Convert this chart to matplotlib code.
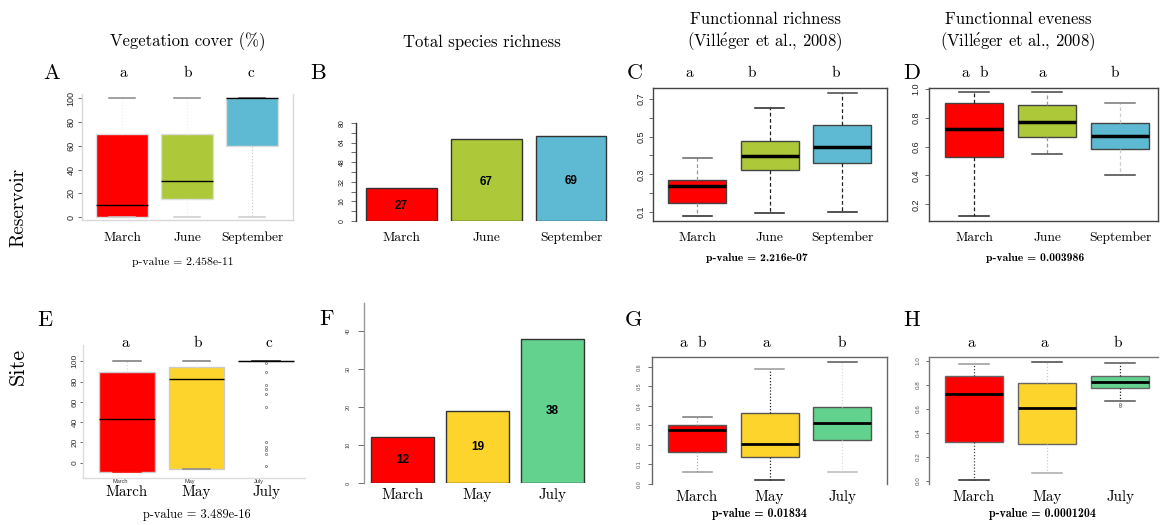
import matplotlib
matplotlib.use("Agg")
import matplotlib.pyplot as plt

plt.rcParams["mathtext.fontset"] = "cm"

W, H = 1160, 525
SER = ["cmr10", "DejaVu Serif"]
BSER = ["cmb10", "DejaVu Serif"]
SANS = ["Liberation Sans", "DejaVu Sans"]

months_res = ["March", "June", "September"]
months_site = ["March", "May", "July"]
col_res = ["#FF0000", "#ADC93A", "#5EBAD2"]
col_site = ["#FF0000", "#FDD42C", "#62D28E"]

# A  vegetation cover (%), reservoir
vegA_lo = [0, 0, 0]
vegA_q1 = [0, 15, 60]
vegA_med = [10, 30, 100]
vegA_q3 = [70, 70, 100]
vegA_hi = [100, 100, 100]
vegA_letters = ["a", "b", "c"]
ticksA = [0, 20, 40, 60, 80, 100]

# B  total species richness, reservoir
richB = [27, 67, 69]
ticksB = [0, 16, 32, 48, 64, 80]

# C  functional richness, reservoir
fricC_lo = [0.079, 0.093, 0.098]
fricC_q1 = [0.146, 0.321, 0.361]
fricC_med = [0.239, 0.396, 0.446]
fricC_q3 = [0.269, 0.479, 0.559]
fricC_hi = [0.388, 0.654, 0.734]
fricC_letters = ["a", "b", "b"]
ticksC = [0.1, 0.2, 0.3, 0.4, 0.5, 0.6, 0.7]
labelsC = ["0.1", "", "0.3", "", "0.5", "", "0.7"]

# D  functional evenness, reservoir
feveD_lo = [0.119, 0.545, 0.402]
feveD_q1 = [0.527, 0.668, 0.582]
feveD_med = [0.719, 0.772, 0.675]
feveD_q3 = [0.902, 0.888, 0.765]
feveD_hi = [0.976, 0.979, 0.900]
feveD_letters = ["a  b", "a", "b"]
ticksD = [0.2, 0.4, 0.6, 0.8, 1.0]
labelsD = ["0.2", "0.4", "0.6", "0.8", "1.0"]

# E  vegetation cover (%), site
vegE_lo = [-9, -6, 100]
vegE_q1 = [-9, -6, 100]
vegE_med = [43, 83, 100]
vegE_q3 = [89, 94, 100]
vegE_hi = [100, 100, 100]
vegE_fliers = [[], [], [98, 89, 77, 73, 68, 55, 20, 16, 13, 9, -3]]
vegE_letters = ["a", "b", "c"]
ticksE = [0, 20, 40, 60, 80, 100]

# F  total species richness, site
richF = [12, 19, 38]
ticksF = [0, 10, 20, 30, 40]

# G  functional richness, site
fricG_lo = [0.060, 0.019, 0.063]
fricG_q1 = [0.163, 0.139, 0.224]
fricG_med = [0.277, 0.206, 0.311]
fricG_q3 = [0.301, 0.364, 0.395]
fricG_hi = [0.345, 0.590, 0.626]
fricG_letters = ["a  b", "a", "b"]
ticksG = [0.0, 0.1, 0.2, 0.3, 0.4, 0.5, 0.6]
labelsG = ["0.0", "0.1", "0.2", "0.3", "0.4", "0.5", "0.6"]

# H  functional evenness, site
feveH_lo = [0.006, 0.064, 0.665]
feveH_q1 = [0.321, 0.310, 0.776]
feveH_med = [0.726, 0.607, 0.828]
feveH_q3 = [0.873, 0.814, 0.873]
feveH_hi = [0.978, 0.992, 0.983]
feveH_fliers = [[], [], [0.64, 0.62]]
feveH_letters = ["a", "a", "b"]
ticksH = [0.0, 0.2, 0.4, 0.6, 0.8, 1.0]
labelsH = ["0.0", "0.2", "0.4", "0.6", "0.8", "1.0"]

pvals = {"A": "p-value = 2.458e-11", "C": "p-value = 2.216e-07",
         "D": "p-value = 0.003986", "E": "p-value = 3.489e-16",
         "G": "p-value = 0.01834", "H": "p-value = 0.0001204"}

pos = [1, 2, 3]

fig = plt.figure(figsize=(W / 100, H / 100), dpi=100)


def rect(x0, y0, x1, y1):
    return [x0 / W, 1 - y1 / H, (x1 - x0) / W, (y1 - y0) / H]


def put(x, y, s, **kw):
    kw.setdefault("family", SER)
    fig.text(x / W, 1 - y / H, s, ha="center", va="center", **kw)


def spines(ax, show, color, lw=1.0):
    for k, sp in ax.spines.items():
        sp.set_visible(k in show)
        sp.set_color(color)
        sp.set_linewidth(lw)


def boxes(ax, lo, q1, med, q3, hi, cols, fliers=None, edge="#444", med_lw=2.5,
          wcol=("k", "k", "k"), wls=(0, (3, 2)), ccol=(("k", "k"),) * 3, width=0.8):
    fliers = fliers or [[] for _ in lo]
    st = [dict(whislo=a, q1=b, med=c, q3=d, whishi=e, fliers=f)
          for a, b, c, d, e, f in zip(lo, q1, med, q3, hi, fliers)]
    bp = ax.bxp(st, positions=pos, widths=width, patch_artist=True,
                boxprops=dict(edgecolor=edge, linewidth=1),
                medianprops=dict(color="black", linewidth=med_lw),
                whiskerprops=dict(linestyle=wls, linewidth=0.9),
                capprops=dict(linewidth=1.1),
                flierprops=dict(marker="o", markersize=1.6, markerfacecolor="none",
                                markeredgecolor="#888", markeredgewidth=0.6))
    for i in range(3):
        bp["boxes"][i].set_facecolor(cols[i])
        bp["whiskers"][2 * i].set_color(wcol[i])
        bp["whiskers"][2 * i + 1].set_color(wcol[i])
        bp["caps"][2 * i].set_color(ccol[i][0])
        bp["caps"][2 * i + 1].set_color(ccol[i][1])
    return bp


def yaxis(ax, ticks, labels, size, length, pad, color="#222"):
    ax.set_yticks(ticks, labels, rotation=90, va="center", family=SANS,
                  fontsize=size, color=color)
    ax.tick_params(axis="y", length=length, width=0.6, pad=pad, colors="#555",
                   labelcolor=color)


def xaxis(ax, labels, size, pad):
    ax.set_xticks(pos, labels, family=SER, fontsize=size, va="center")
    ax.tick_params(axis="x", length=0, pad=pad)


# ---------- A
axA = fig.add_axes(rect(82, 94, 293, 220))
boxes(axA, vegA_lo, vegA_q1, vegA_med, vegA_q3, vegA_hi, col_res, edge="#dddddd",
      med_lw=1.0, wcol=("#f2f2f2", "#f2f2f2", "#cccccc"), wls=(0, (1, 1.5)),
      ccol=(("#cccccc", "#888888"), ("#cccccc", "#888888"), ("#cccccc", "#555555")))
axA.set_xlim(0.385, 3.63)
axA.set_ylim(-2.5, 103.7)
spines(axA, ["left", "bottom", "right"], "#d8d8d8")
yaxis(axA, ticksA, [str(t) for t in ticksA], 6.5, 3, 1.5)
xaxis(axA, months_res, 9.7, 13)

# ---------- B
axB = fig.add_axes(rect(356, 123, 610, 221))
axB.bar(pos, richB, width=0.835, color=col_res, edgecolor="#333333", linewidth=1)
for x, v in zip(pos, richB):
    axB.text(x, v / 2 - 1.5, str(v), ha="center", va="center", family=SANS,
             fontweight="bold", fontsize=8.5)
axB.set_xlim(0.465, 3.46)
axB.set_ylim(0, 80)
spines(axB, ["left"], "#333333")
axB.set_yticks([8, 24, 40, 56, 72], minor=True)
axB.tick_params(axis="y", which="minor", length=3.5, width=0.6, color="#555")
yaxis(axB, ticksB, [str(t) for t in ticksB], 5, 3.6, 4)
xaxis(axB, months_res, 9.7, 12.2)

# ---------- C
axC = fig.add_axes(rect(653, 88, 887, 221))
boxes(axC, fricC_lo, fricC_q1, fricC_med, fricC_q3, fricC_hi, col_res,
      wcol=("#999999", "#222222", "#222222"),
      ccol=(("#222", "#666"), ("#222", "#222"), ("#222", "#444")))
axC.set_xlim(0.393, 3.62)
axC.set_ylim(0.052, 0.758)
spines(axC, ["left", "bottom", "right", "top"], "#444444")
yaxis(axC, ticksC, labelsC, 6.5, 2.9, 2.5)
xaxis(axC, months_res, 9.7, 12.2)

# ---------- D
axD = fig.add_axes(rect(929, 88, 1158, 221))
boxes(axD, feveD_lo, feveD_q1, feveD_med, feveD_q3, feveD_hi, col_res,
      wcol=("#222222", "#999999", "#cccccc"),
      ccol=(("#222", "#444"), ("#444", "#444"), ("#444", "#777")))
axD.set_xlim(0.384, 3.52)
axD.set_ylim(0.084, 1.006)
spines(axD, ["left", "bottom", "right", "top"], "#444444")
yaxis(axD, ticksD, labelsD, 6.5, 2.9, 3.2)
xaxis(axD, months_res, 9.7, 12.2)

# ---------- E
axE = fig.add_axes(rect(83, 345, 305, 478))
boxes(axE, vegE_lo, vegE_q1, vegE_med, vegE_q3, vegE_hi, col_site, fliers=vegE_fliers,
      edge="#cccccc", med_lw=1.0, wcol=("#dddddd", "#eeeeee", "#dddddd"),
      wls=(0, (1, 1.5)),
      ccol=(("#ff0000", "#777777"), ("#888888", "#777777"), ("#444444", "#444444")))
axE.set_xlim(0.367, 3.56)
axE.set_ylim(-15, 116)
spines(axE, ["left", "bottom"], "#dddddd")
yaxis(axE, ticksE, [str(t) for t in ticksE], 6, 2, 1, color="#333")
xaxis(axE, months_site, 10.8, 10)
for x, lab in zip(pos, months_site):
    axE.text(x - 0.1, -0.025, lab, transform=axE.get_xaxis_transform(), ha="center",
             va="center", family=SANS, fontsize=4, color="#333")

# ---------- F
axF = fig.add_axes(rect(364, 303, 600, 483))
axF.bar(pos, richF, width=0.84, color=col_site, edgecolor="#333333", linewidth=1)
for x, v in zip(pos, richF):
    axF.text(x, v / 2, str(v), ha="center", va="center", family=SANS,
             fontweight="bold", fontsize=8.5)
axF.set_xlim(0.487, 3.63)
axF.set_ylim(0, 47.4)
spines(axF, ["left"], "#999999")
yaxis(axF, ticksF, [str(t) for t in ticksF], 4, 4.3, 5, color="#444")
xaxis(axF, months_site, 10.8, 8.6)

# ---------- G
axG = fig.add_axes(rect(652, 357, 887, 484))
boxes(axG, fricG_lo, fricG_q1, fricG_med, fricG_q3, fricG_hi, col_site, edge="#555555",
      med_lw=2.0, wcol=("#aaaaaa", "#222222", "#dddddd"), wls=(0, (1, 1.5)),
      ccol=(("#999", "#777"), ("#222", "#999"), ("#bbb", "#555")))
axG.set_xlim(0.379, 3.62)
axG.set_ylim(0, 0.651)
spines(axG, ["left", "right", "top"], "#666666")
yaxis(axG, ticksG, labelsG, 4, 2.9, 4.3, color="#555")
xaxis(axG, months_site, 10.8, 9.4)

# ---------- H
axH = fig.add_axes(rect(929, 357, 1158, 484))
boxes(axH, feveH_lo, feveH_q1, feveH_med, feveH_q3, feveH_hi, col_site, fliers=feveH_fliers,
      edge="#666666", med_lw=2.0, wcol=("#444444", "#cccccc", "#222222"),
      wls=(0, (1, 1.5)),
      ccol=(("#222", "#999"), ("#aaa", "#444"), ("#555", "#555")))
axH.set_xlim(0.384, 3.52)
axH.set_ylim(-0.028, 1.033)
spines(axH, ["left", "top"], "#777777")
yaxis(axH, ticksH, labelsH, 4.5, 2.2, 3.6, color="#555")
xaxis(axH, months_site, 10.8, 9.4)

# ---------- titles, row labels, panel letters
ref = r"(Vill$\acute{\rm e}$ger et al., 2008)"
put(188, 42, "Vegetation cover (%)", fontsize=12)
put(482, 42, "Total species richness", fontsize=12)
put(765, 19, "Functionnal richness", fontsize=12)
put(765, 42, ref, fontsize=12)
put(1018, 19, "Functionnal eveness", fontsize=12)
put(1018, 42, ref, fontsize=12)
put(18, 207, "Reservoir", fontsize=14, rotation=90)
put(18, 366, "Site", fontsize=16, rotation=90)

for lab, x, y in [("A", 52, 73), ("B", 318, 73), ("C", 635, 73), ("D", 912, 73),
                  ("E", 45, 320), ("F", 327, 319), ("G", 633, 320), ("H", 912, 320)]:
    put(x, y, lab, fontsize=16)

for letters, xs, y in [(vegA_letters, [123, 188, 251], 73),
                       (fricC_letters, [689, 752, 836], 73),
                       (feveD_letters, [975, 1042, 1115], 73),
                       (vegE_letters, [125, 198, 269], 343),
                       (fricG_letters, [693, 766, 842], 343),
                       (feveH_letters, [971, 1044, 1118], 343)]:
    for s, x in zip(letters, xs):
        put(x, y, s, fontsize=11)

put(183, 262, pvals["A"], fontsize=8.4)
put(757, 258, pvals["C"], fontsize=8.4, family=BSER)
put(1035, 258, pvals["D"], fontsize=8.4, family=BSER)
put(197, 515, pvals["E"], fontsize=8.9)
put(759, 514, pvals["G"], fontsize=8.6, family=BSER)
put(1042, 514, pvals["H"], fontsize=8.6, family=BSER)

fig.savefig("out.png", dpi=100)
